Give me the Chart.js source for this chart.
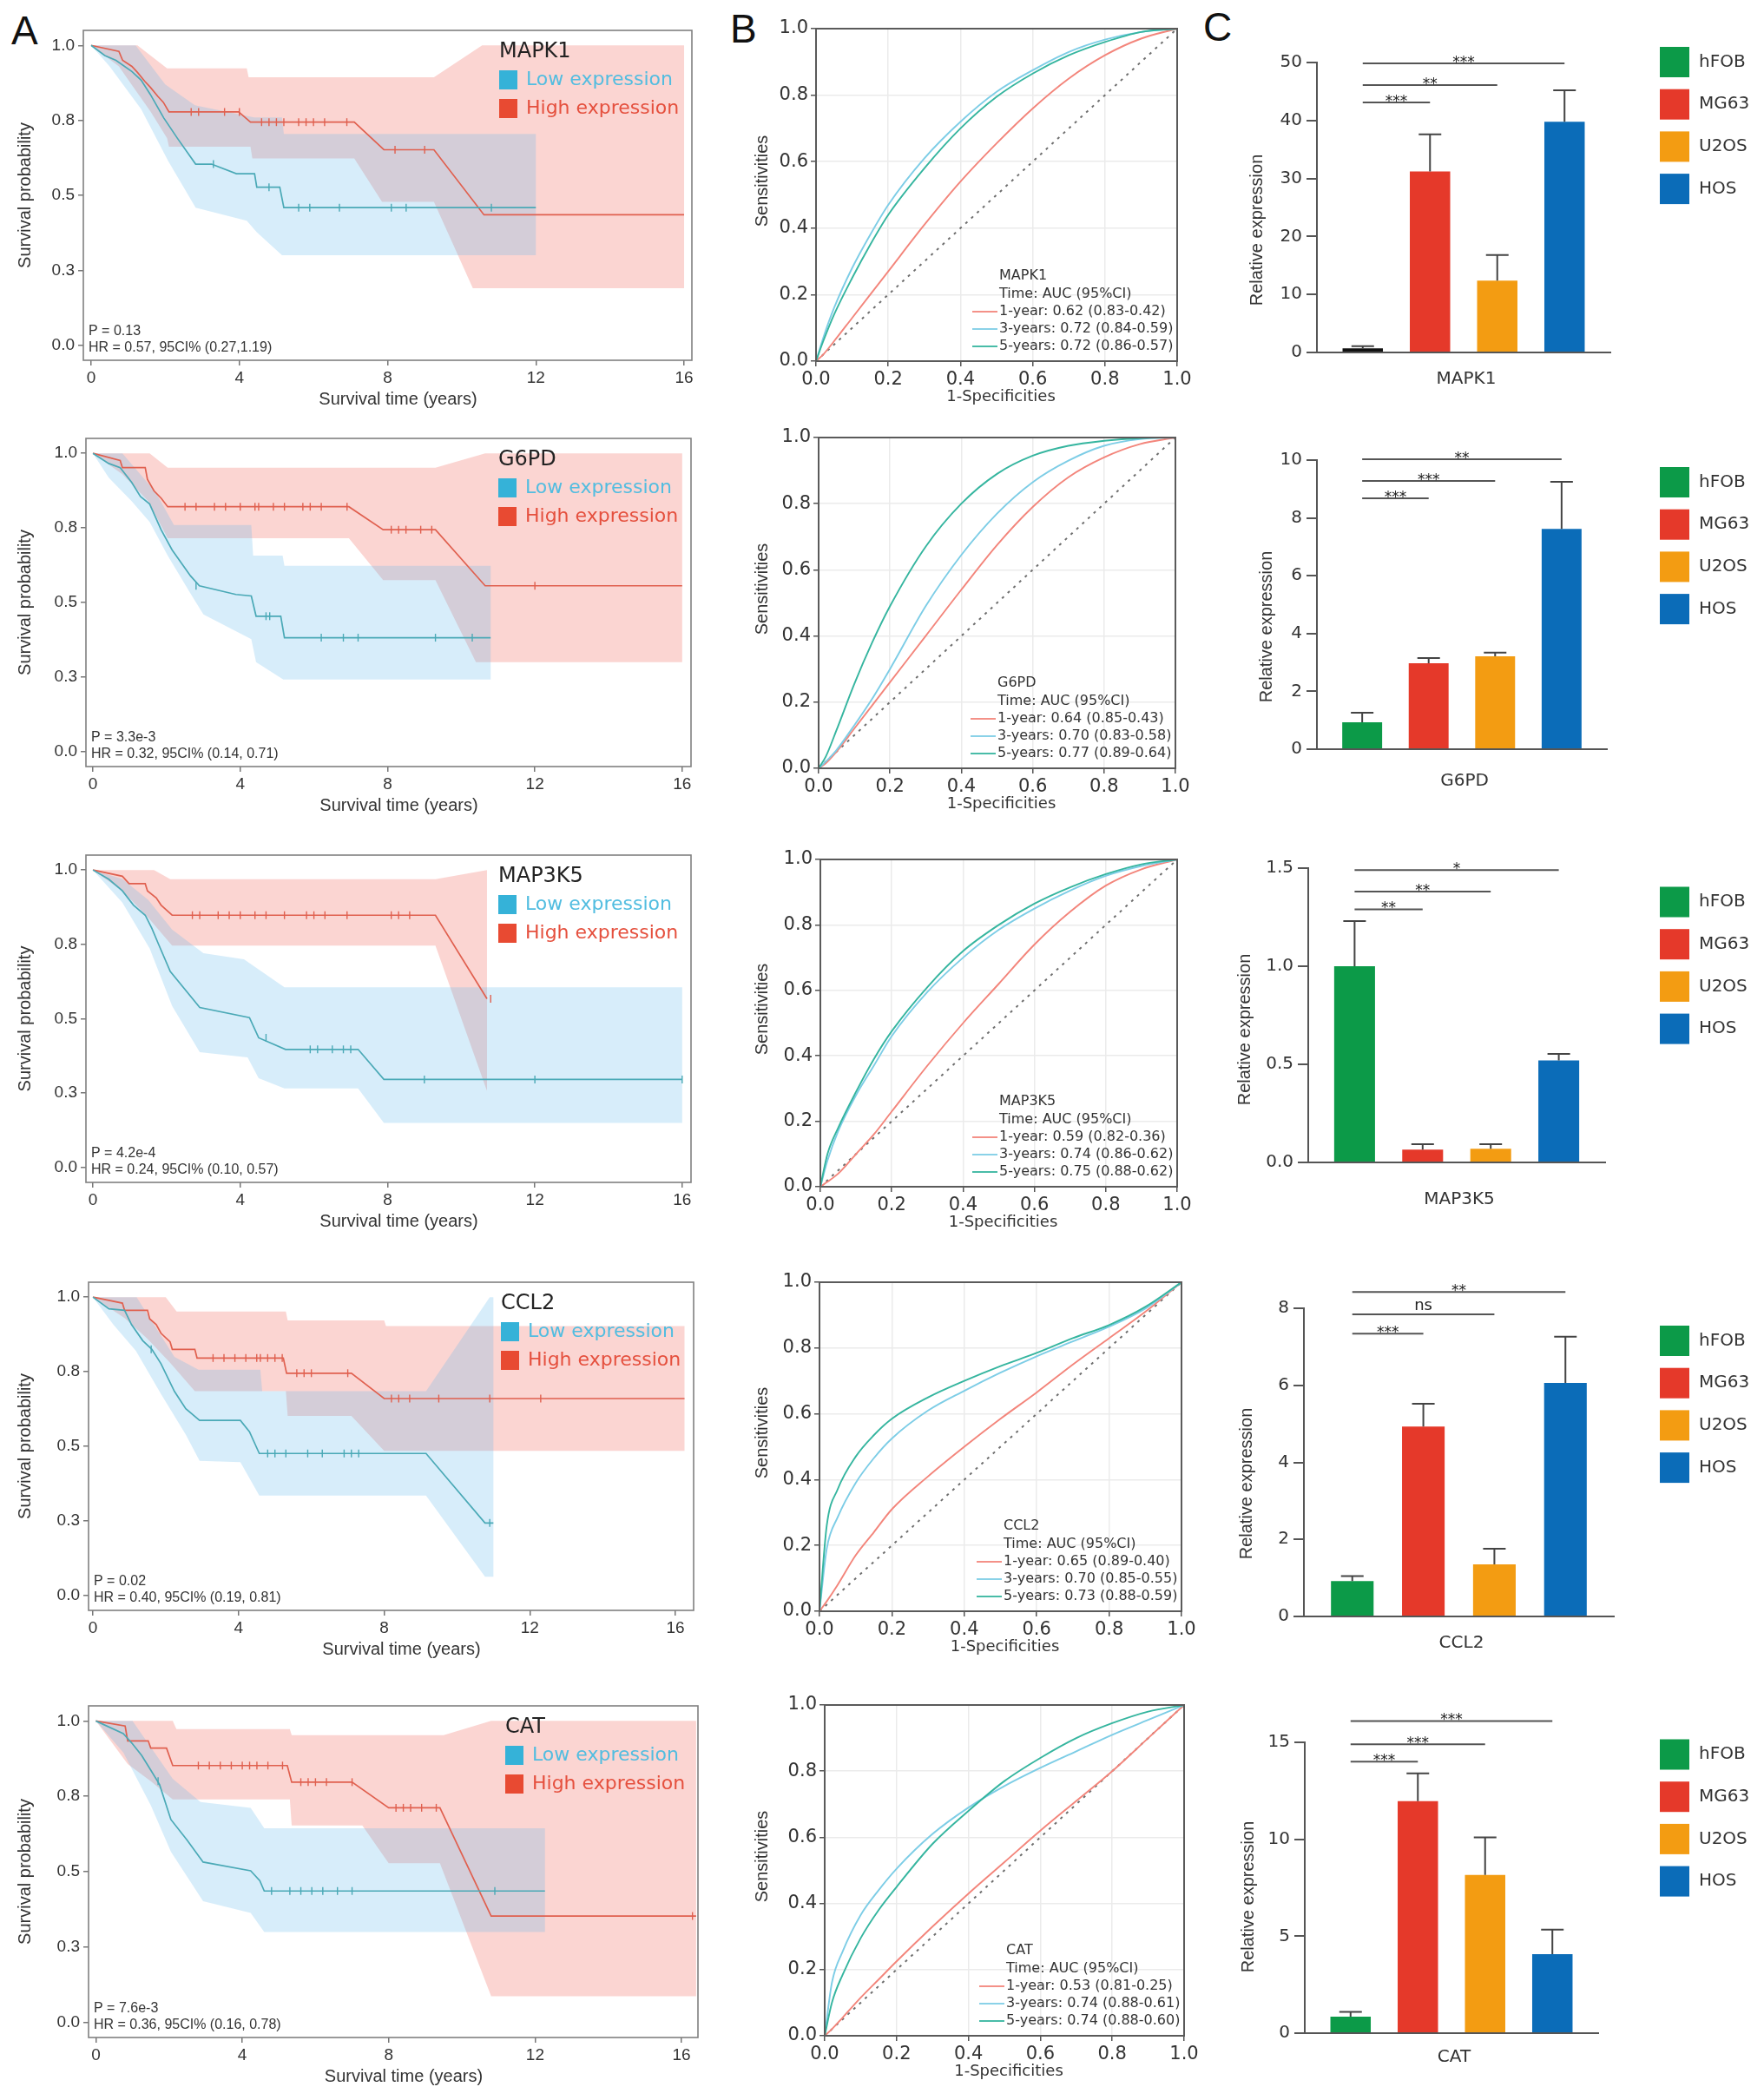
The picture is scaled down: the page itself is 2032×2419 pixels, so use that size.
<!DOCTYPE html>
<html>
<head>
<meta charset="utf-8">
<script src="https://cdn.jsdelivr.net/npm/chart.js@4.4.1/dist/chart.umd.min.js"></script>
<style>
  html, body { margin: 0; padding: 0; background: #fff; }
  #page { position: relative; width: 2032px; height: 2419px; overflow: hidden; background: #fff; }
  #page canvas { position: absolute; }
  .letter { position: absolute; font-family: "Liberation Sans", Arial, sans-serif; font-size: 46px; line-height: 1; color: #111; }
</style>
</head>
<body>
<div id="page">
  <div class="letter" style="left:13px;top:12px">A</div>
  <div class="letter" style="left:841px;top:10px">B</div>
  <div class="letter" style="left:1386px;top:8px">C</div>
</div>
<script>
// ---------- shared labels ----------
const genes = ['MAPK1', 'G6PD', 'MAP3K5', 'CCL2', 'CAT'];
const cellLines = ['hFOB', 'MG63', 'U2OS', 'HOS'];
const groupNames = ['Low expression', 'High expression'];

// ---------- A: Kaplan-Meier (time in years, survival) ----------
const kmXTicks = [0, 4, 8, 12, 16];
const kmYTicks = [0, 0.25, 0.5, 0.75, 1];
const kmPText = ['P = 0.13', 'P = 3.3e-3', 'P = 4.2e-4', 'P = 0.02', 'P = 7.6e-3'];
const kmHrText = ['HR = 0.57, 95CI% (0.27,1.19)', 'HR = 0.32, 95CI% (0.14, 0.71)', 'HR = 0.24, 95CI% (0.10, 0.57)',
  'HR = 0.40, 95CI% (0.19, 0.81)', 'HR = 0.36, 95CI% (0.16, 0.78)'];

const mapk1Low = [[0,1],[0.37,0.966],[0.67,0.95],[1.1,0.913],[1.35,0.884],[1.6,0.836],[1.78,0.797],[1.96,0.758],[2.33,0.69],[2.82,0.604],[3.25,0.604],[3.92,0.572],[4.41,0.572],[4.47,0.527],[5.09,0.527],[5.2,0.459],[12,0.459]];
const mapk1LowUp = [[0,1],[1.2,1],[2.0,0.87],[2.8,0.8],[4.4,0.76],[5.15,0.76],[5.2,0.705],[12,0.705]];
const mapk1LowLo = [[0,1],[0.5,0.93],[1.35,0.787],[2.08,0.614],[2.82,0.459],[4.2,0.415],[4.47,0.377],[5.15,0.30],[12,0.30]];
const mapk1LowCens = [[3.3,0.604],[4.8,0.527],[5.6,0.459],[5.9,0.459],[6.7,0.459],[8.1,0.459],[8.5,0.459],[10.8,0.459]];
const mapk1High = [[0,1],[0.75,0.98],[0.85,0.95],[1.1,0.93],[1.25,0.91],[1.45,0.88],[1.6,0.86],[1.8,0.83],[1.95,0.81],[2.1,0.778],[3.98,0.778],[4.3,0.744],[7.1,0.744],[7.9,0.652],[9.25,0.652],[10.6,0.435],[16,0.435]];
const mapk1HighUp = [[0,1],[1.25,1],[2.05,0.923],[4.2,0.923],[4.25,0.894],[9.25,0.894],[10.55,1],[16,1]];
const mapk1HighLo = [[0,1],[0.75,0.93],[1.2,0.85],[1.6,0.78],[2.05,0.69],[2.1,0.662],[4.3,0.662],[4.35,0.623],[7.1,0.623],[7.85,0.478],[9.25,0.478],[10.3,0.19],[16,0.19]];
const mapk1HighCens = [[2.7,0.778],[2.9,0.778],[3.6,0.778],[4.0,0.778],[4.6,0.744],[4.8,0.744],[5.0,0.744],[5.2,0.744],[5.6,0.744],[5.8,0.744],[6.0,0.744],[6.3,0.744],[6.9,0.744],[8.2,0.652],[9.0,0.652]];

const g6pdLow = [[0,1],[0.43,0.966],[0.74,0.952],[1.05,0.903],[1.29,0.855],[1.54,0.83],[1.85,0.744],[2.15,0.676],[2.65,0.589],[2.89,0.556],[3.88,0.527],[4.3,0.522],[4.43,0.454],[5.1,0.454],[5.2,0.382],[10.8,0.382]];
const g6pdLowUp = [[0,1],[0.8,1],[1.7,0.87],[2.2,0.76],[4.3,0.76],[4.35,0.657],[5.15,0.657],[5.2,0.623],[10.8,0.623]];
const g6pdLowLo = [[0,1],[0.43,0.918],[1.05,0.84],[1.54,0.77],[2.03,0.657],[2.65,0.53],[3.0,0.46],[4.3,0.377],[4.43,0.30],[5.17,0.242],[10.8,0.242]];
const g6pdLowCens = [[2.8,0.556],[4.7,0.454],[4.8,0.454],[6.2,0.382],[6.8,0.382],[7.2,0.382],[9.3,0.382],[10.3,0.382]];
const g6pdHigh = [[0,1],[0.74,0.976],[0.8,0.952],[1.42,0.952],[1.48,0.913],[1.66,0.874],[1.85,0.85],[2.03,0.821],[6.95,0.821],[7.88,0.744],[9.3,0.744],[10.65,0.556],[16,0.556]];
const g6pdHighUp = [[0,1],[1.54,1],[2.03,0.952],[9.3,0.952],[10.65,1],[16,1]];
const g6pdHighLo = [[0,1],[0.8,0.93],[1.5,0.84],[2.03,0.715],[6.95,0.715],[7.88,0.575],[9.3,0.575],[10.4,0.30],[16,0.30]];
const g6pdHighCens = [[2.5,0.821],[2.8,0.821],[3.3,0.821],[3.6,0.821],[4.0,0.821],[4.4,0.821],[4.5,0.821],[4.9,0.821],[5.2,0.821],[5.7,0.821],[5.9,0.821],[6.2,0.821],[6.9,0.821],[8.1,0.744],[8.3,0.744],[8.5,0.744],[8.9,0.744],[9.2,0.744],[12.0,0.556]];

const map3k5Low = [[0,1],[0.43,0.969],[0.8,0.93],[1.1,0.882],[1.42,0.848],[1.6,0.804],[1.78,0.751],[2.1,0.659],[2.9,0.538],[4.25,0.504],[4.5,0.436],[5.23,0.397],[7.2,0.397],[7.9,0.296],[16,0.296]];
const map3k5LowUp = [[0,1],[0.8,0.97],[1.5,0.9],[2.15,0.8],[3.0,0.72],[4.1,0.70],[5.2,0.606],[16,0.606]];
const map3k5LowLo = [[0,1],[0.8,0.89],[1.54,0.736],[2.15,0.543],[2.9,0.388],[4.2,0.37],[4.5,0.30],[5.2,0.266],[7.2,0.266],[7.9,0.15],[16,0.15]];
const map3k5LowCens = [[4.7,0.436],[5.9,0.397],[6.1,0.397],[6.5,0.397],[6.8,0.397],[7.0,0.397],[9.0,0.296],[12.0,0.296],[16,0.296]];
const map3k5High = [[0,1],[0.8,0.979],[0.98,0.954],[1.42,0.954],[1.48,0.93],[1.72,0.906],[1.85,0.882],[2.15,0.848],[9.3,0.848],[10.7,0.567]];
const map3k5HighUp = [[0,1],[1.66,1],[2.1,0.969],[9.3,0.969],[10.7,1]];
const map3k5HighLo = [[0,1],[0.8,0.93],[1.5,0.84],[2.15,0.746],[9.3,0.746],[10.7,0.257]];
const map3k5HighCens = [[2.7,0.848],[2.9,0.848],[3.4,0.848],[3.7,0.848],[4.0,0.848],[4.4,0.848],[4.7,0.848],[5.2,0.848],[5.8,0.848],[6.0,0.848],[6.3,0.848],[6.9,0.848],[8.1,0.848],[8.3,0.848],[8.6,0.848],[10.8,0.567]];

const ccl2Low = [[0,1],[0.44,0.961],[0.87,0.956],[1.06,0.908],[1.37,0.854],[1.62,0.825],[1.87,0.777],[2.24,0.684],[2.55,0.626],[2.93,0.587],[4.05,0.587],[4.3,0.549],[4.57,0.476],[9.15,0.476],[10.77,0.243],[11.0,0.243]];
const ccl2LowUp = [[0,1],[1.2,1],[2.24,0.80],[2.9,0.757],[4.6,0.757],[4.65,0.685],[9.15,0.685],[10.9,1],[11.0,1]];
const ccl2LowLo = [[0,1],[0.56,0.908],[1.18,0.82],[1.87,0.675],[2.55,0.539],[2.93,0.451],[4.05,0.447],[4.57,0.335],[9.15,0.335],[10.77,0.063],[11.0,0.063]];
const ccl2LowCens = [[1.6,0.825],[4.8,0.476],[5.0,0.476],[5.3,0.476],[5.9,0.476],[6.3,0.476],[6.9,0.476],[7.1,0.476],[7.3,0.476],[10.9,0.243]];
const ccl2High = [[0,1],[0.81,0.98],[0.87,0.956],[1.5,0.956],[1.56,0.927],[1.74,0.908],[1.87,0.879],[2.12,0.85],[2.18,0.825],[2.8,0.825],[2.86,0.796],[5.23,0.796],[5.32,0.745],[7.1,0.745],[8.0,0.66],[16.25,0.66]];
const ccl2HighUp = [[0,1],[2.0,1],[2.3,0.952],[5.3,0.952],[5.35,0.922],[8.0,0.922],[8.05,0.903],[16.25,0.903]];
const ccl2HighLo = [[0,1],[0.87,0.93],[1.5,0.86],[2.12,0.78],[2.8,0.685],[5.3,0.685],[5.35,0.602],[7.1,0.602],[8.0,0.485],[16.25,0.485]];
const ccl2HighCens = [[3.3,0.796],[3.6,0.796],[3.9,0.796],[4.2,0.796],[4.5,0.796],[4.6,0.796],[4.8,0.796],[5.0,0.796],[5.2,0.796],[5.6,0.745],[5.8,0.745],[6.0,0.745],[7.0,0.745],[8.2,0.66],[8.4,0.66],[8.7,0.66],[9.5,0.66],[10.9,0.66],[12.3,0.66]];

const catLow = [[0,1],[0.75,0.958],[1.0,0.924],[1.25,0.886],[1.5,0.837],[1.74,0.789],[2.05,0.673],[2.49,0.605],[2.93,0.532],[4.23,0.503],[4.48,0.47],[4.6,0.436],[12.27,0.436]];
const catLowUp = [[0,1],[1.0,1],[2.1,0.808],[2.86,0.731],[4.23,0.712],[4.6,0.644],[12.27,0.644]];
const catLowLo = [[0,1],[0.75,0.895],[1.5,0.72],[2.05,0.566],[2.93,0.402],[4.23,0.363],[4.6,0.30],[12.27,0.30]];
const catLowCens = [[1.7,0.80],[4.8,0.436],[5.3,0.436],[5.6,0.436],[5.9,0.436],[6.2,0.436],[6.6,0.436],[7.0,0.436],[10.9,0.436]];
const catHigh = [[0,1],[0.8,0.983],[0.87,0.934],[1.43,0.934],[1.5,0.91],[1.93,0.91],[2.1,0.852],[5.23,0.852],[5.35,0.797],[7.0,0.797],[8.0,0.712],[9.4,0.712],[10.8,0.353],[16.4,0.353]];
const catHighUp = [[0,1],[2.1,1],[2.2,0.973],[5.3,0.973],[5.35,0.953],[9.5,0.953],[10.8,1],[16.4,1]];
const catHighLo = [[0,1],[0.87,0.857],[1.5,0.8],[2.1,0.74],[5.3,0.74],[5.35,0.653],[7.28,0.653],[8.0,0.528],[9.4,0.528],[10.8,0.087],[16.4,0.087]];
const catHighCens = [[2.8,0.852],[3.1,0.852],[3.4,0.852],[3.7,0.852],[4.0,0.852],[4.2,0.852],[4.4,0.852],[4.7,0.852],[5.1,0.852],[5.6,0.797],[5.8,0.797],[6.0,0.797],[6.3,0.797],[7.0,0.797],[8.2,0.712],[8.4,0.712],[8.6,0.712],[8.9,0.712],[9.3,0.712],[16.3,0.353]];

// ---------- B: time-dependent ROC ----------
const rocTicks = [0, 0.2, 0.4, 0.6, 0.8, 1];
const rocX = [0, 0.02, 0.05, 0.1, 0.15, 0.2, 0.3, 0.4, 0.5, 0.6, 0.7, 0.8, 0.9, 1];
const rocDiag = [[0, 0], [1, 1]];
const rocTimes = ['1-year', '3-years', '5-years'];
const mapk1Roc1 = [0,0.02,0.06,0.13,0.20,0.27,0.41,0.54,0.655,0.76,0.85,0.92,0.97,1];
const mapk1Roc3 = [0,0.07,0.16,0.28,0.38,0.47,0.61,0.72,0.81,0.875,0.93,0.967,0.99,1];
const mapk1Roc5 = [0,0.06,0.14,0.25,0.35,0.44,0.58,0.70,0.795,0.865,0.92,0.96,0.99,1];
const g6pdRoc1 = [0,0.015,0.05,0.12,0.19,0.26,0.40,0.54,0.675,0.79,0.88,0.94,0.98,1];
const g6pdRoc3 = [0,0.02,0.055,0.13,0.21,0.30,0.49,0.645,0.77,0.865,0.93,0.975,0.995,1];
const g6pdRoc5 = [0,0.035,0.115,0.255,0.38,0.49,0.67,0.80,0.89,0.945,0.975,0.99,0.998,1];
const map3k5Roc1 = [0,0.015,0.04,0.10,0.16,0.23,0.37,0.50,0.62,0.74,0.84,0.92,0.97,1];
const map3k5Roc3 = [0,0.08,0.17,0.28,0.37,0.46,0.595,0.70,0.785,0.85,0.905,0.95,0.98,1];
const map3k5Roc5 = [0,0.10,0.18,0.29,0.39,0.475,0.61,0.72,0.80,0.865,0.915,0.955,0.985,1];
const ccl2Roc1 = [0,0.03,0.08,0.17,0.24,0.31,0.41,0.50,0.585,0.665,0.75,0.83,0.91,1];
const ccl2Roc3 = [0,0.19,0.285,0.39,0.465,0.525,0.61,0.67,0.725,0.775,0.82,0.865,0.92,1];
const ccl2Roc5 = [0,0.26,0.37,0.47,0.535,0.585,0.65,0.70,0.745,0.785,0.83,0.87,0.925,1];
const catRoc1 = [0,0.02,0.055,0.115,0.17,0.225,0.33,0.43,0.525,0.62,0.71,0.80,0.90,1];
const catRoc3 = [0,0.16,0.255,0.365,0.44,0.505,0.61,0.69,0.755,0.81,0.86,0.91,0.955,1];
const catRoc5 = [0,0.10,0.185,0.295,0.38,0.45,0.58,0.68,0.77,0.84,0.90,0.945,0.98,1];
const mapk1Auc = ['0.62 (0.83-0.42)', '0.72 (0.84-0.59)', '0.72 (0.86-0.57)'];
const g6pdAuc = ['0.64 (0.85-0.43)', '0.70 (0.83-0.58)', '0.77 (0.89-0.64)'];
const map3k5Auc = ['0.59 (0.82-0.36)', '0.74 (0.86-0.62)', '0.75 (0.88-0.62)'];
const ccl2Auc = ['0.65 (0.89-0.40)', '0.70 (0.85-0.55)', '0.73 (0.88-0.59)'];
const catAuc = ['0.53 (0.81-0.25)', '0.74 (0.88-0.61)', '0.74 (0.88-0.60)'];

// ---------- C: qPCR relative expression (mean, SD, significance) ----------
const mapk1Expr = [0.7, 31.2, 12.4, 39.8];
const mapk1Sd = [0.4, 6.4, 4.4, 5.4];
const mapk1Ticks = [0, 10, 20, 30, 40, 50];
const mapk1Sig = [['***', 1, 43.1], ['**', 2, 46.1], ['***', 3, 49.85]];
const g6pdExpr = [0.93, 2.97, 3.21, 7.62];
const g6pdSd = [0.33, 0.18, 0.13, 1.63];
const g6pdTicks = [0, 2, 4, 6, 8, 10];
const g6pdSig = [['***', 1, 8.68], ['***', 2, 9.28], ['**', 3, 10.03]];
const map3k5Expr = [1.0, 0.065, 0.07, 0.52];
const map3k5Sd = [0.23, 0.028, 0.023, 0.033];
const map3k5Ticks = [0, 0.5, 1, 1.5];
const map3k5Sig = [['**', 1, 1.29], ['**', 2, 1.38], ['*', 3, 1.49]];
const ccl2Expr = [0.92, 4.93, 1.35, 6.06];
const ccl2Sd = [0.13, 0.59, 0.41, 1.2];
const ccl2Ticks = [0, 2, 4, 6, 8];
const ccl2Sig = [['***', 1, 7.34], ['ns', 2, 7.84], ['**', 3, 8.42]];
const catExpr = [0.85, 11.97, 8.16, 4.08];
const catSd = [0.25, 1.43, 1.94, 1.26];
const catTicks = [0, 5, 10, 15];
const catSig = [['***', 1, 14.0], ['***', 2, 14.9], ['***', 3, 16.1]];

// ---------- styling / layout ----------
const SANS = '"Liberation Sans", Arial, sans-serif';
const WIDE = '"DejaVu Sans", sans-serif';
const LOW_LINE = '#4aa9b6', HIGH_LINE = '#e0604f';
const LOW_BAND = 'rgba(86,180,233,0.24)', HIGH_BAND = 'rgba(240,100,90,0.27)';
const LOW_KEY = '#35b2d8', HIGH_KEY = '#e84a32';
const LOW_TXT = '#52bde0', HIGH_TXT = '#e5503e';
const ROC_COLORS = ['#f3857b', '#7dcde6', '#35b59f'];
const CELL_COLORS = ['#0c9a48', '#e5392a', '#f39c12', '#0b6cb8'];

// plot areas in page pixels [left, top, right, bottom]
const kmAreas = [[96,35,797,415],[99,505,796,883],[99,985,796,1362],[102,1477,799,1855],[102,1965,804,2347]];
const kmXMin = [-0.21, -0.19, -0.19, -0.12, -0.2];
const kmXMax = [16.21, 16.24, 16.24, 16.5, 16.45];
const rocAreas = [[940,33,1356,416],[943,504,1354,885],[945,990,1356,1367],[944,1477,1361,1856],[950,1964,1364,2345]];
const barAreas = [[1517,72,1855,406],[1517,530,1851,863],[1507,1000,1849,1339],[1502,1507,1859,1862],[1503,2007,1841,2342]];
const barLegendY = [71.5, 555.5, 1039, 1544.5, 2021];
const barGeneDy = [31, 37, 43, 31, 28];
const barTitleX = [1448, 1459, 1434, 1436, 1438];
const barTitleY = [265, 722, 1186, 1709, 2185];

const kmRows = [
  {low: mapk1Low, lowUp: mapk1LowUp, lowLo: mapk1LowLo, lowCens: mapk1LowCens, high: mapk1High, highUp: mapk1HighUp, highLo: mapk1HighLo, highCens: mapk1HighCens},
  {low: g6pdLow, lowUp: g6pdLowUp, lowLo: g6pdLowLo, lowCens: g6pdLowCens, high: g6pdHigh, highUp: g6pdHighUp, highLo: g6pdHighLo, highCens: g6pdHighCens},
  {low: map3k5Low, lowUp: map3k5LowUp, lowLo: map3k5LowLo, lowCens: map3k5LowCens, high: map3k5High, highUp: map3k5HighUp, highLo: map3k5HighLo, highCens: map3k5HighCens},
  {low: ccl2Low, lowUp: ccl2LowUp, lowLo: ccl2LowLo, lowCens: ccl2LowCens, high: ccl2High, highUp: ccl2HighUp, highLo: ccl2HighLo, highCens: ccl2HighCens},
  {low: catLow, lowUp: catLowUp, lowLo: catLowLo, lowCens: catLowCens, high: catHigh, highUp: catHighUp, highLo: catHighLo, highCens: catHighCens},
];
const rocRows = [[mapk1Roc1, mapk1Roc3, mapk1Roc5], [g6pdRoc1, g6pdRoc3, g6pdRoc5], [map3k5Roc1, map3k5Roc3, map3k5Roc5], [ccl2Roc1, ccl2Roc3, ccl2Roc5], [catRoc1, catRoc3, catRoc5]];
const rocAuc = [mapk1Auc, g6pdAuc, map3k5Auc, ccl2Auc, catAuc];
const barExpr = [mapk1Expr, g6pdExpr, map3k5Expr, ccl2Expr, catExpr];
const barSd = [mapk1Sd, g6pdSd, map3k5Sd, ccl2Sd, catSd];
const barTicks = [mapk1Ticks, g6pdTicks, map3k5Ticks, ccl2Ticks, catTicks];
const barSig = [mapk1Sig, g6pdSig, map3k5Sig, ccl2Sig, catSig];

Chart.defaults.font.family = SANS;
Chart.defaults.animation = false;

function makeCanvas(area, m) {
  const [l, t, r, b] = area;
  const w = r - l + m.l + m.r, h = b - t + m.t + m.b;
  const cv = document.createElement('canvas');
  cv.width = w; cv.height = h;
  cv.style.left = (l - m.l) + 'px';
  cv.style.top = (t - m.t) + 'px';
  cv.style.width = w + 'px';
  cv.style.height = h + 'px';
  document.getElementById('page').appendChild(cv);
  return cv;
}

function text(ctx, s, x, y, font, color, align = 'left', base = 'middle') {
  ctx.save();
  ctx.font = font; ctx.fillStyle = color;
  ctx.textAlign = align; ctx.textBaseline = base;
  ctx.fillText(s, x, y);
  ctx.restore();
}

function vtext(ctx, s, x, y, font, color) {
  ctx.save();
  ctx.translate(x, y);
  ctx.rotate(-Math.PI / 2);
  ctx.font = font; ctx.fillStyle = color;
  ctx.textAlign = 'center'; ctx.textBaseline = 'middle';
  ctx.fillText(s, 0, 0);
  ctx.restore();
}

const fixedTicks = vals => axis => { axis.ticks = vals.map(v => ({value: v})); };
const pts = a => a.map(p => ({x: p[0], y: p[1]}));

// ---------- Kaplan-Meier panel ----------
function drawKM(i) {
  const d = kmRows[i], area = kmAreas[i];
  const m = {l: 100, t: 22, r: 24, b: 75};
  const cv = makeCanvas(area, m);

  const bandDs = (up, lo, color) => ({
    data: pts(up.concat(lo.slice().reverse())), fill: 'shape', backgroundColor: color,
    borderWidth: 0, borderColor: 'rgba(0,0,0,0)', pointRadius: 0, order: 3
  });
  const lineDs = (data, color) => ({
    data: pts(data), borderColor: color, borderWidth: 1.7, pointRadius: 0, fill: false, tension: 0, order: 1
  });
  const censDs = (data, color) => ({
    data: pts(data), showLine: false, pointStyle: 'line', pointRotation: 90, pointRadius: 4.5,
    pointBorderWidth: 1.4, pointBorderColor: color, borderColor: color, order: 0
  });

  new Chart(cv, {
    type: 'line',
    data: {
      datasets: [
        bandDs(d.lowUp, d.lowLo, LOW_BAND),
        bandDs(d.highUp, d.highLo, HIGH_BAND),
        lineDs(d.low, LOW_LINE),
        lineDs(d.high, HIGH_LINE),
        censDs(d.lowCens, LOW_LINE),
        censDs(d.highCens, HIGH_LINE)
      ]
    },
    options: {
      responsive: false, animation: false, events: [], devicePixelRatio: 1,
      layout: {padding: {left: 0, top: m.t, right: m.r, bottom: 0}},
      plugins: {legend: {display: false}, tooltip: {enabled: false}},
      scales: {
        x: {
          type: 'linear', min: kmXMin[i], max: kmXMax[i],
          afterBuildTicks: fixedTicks(kmXTicks),
          afterFit: a => { a.height = m.b; },
          ticks: {font: {family: SANS, size: 19}, color: '#333', padding: 3, maxRotation: 0, autoSkip: false},
          grid: {drawOnChartArea: false, tickLength: 6, tickColor: '#777', lineWidth: 1.5},
          border: {display: false}
        },
        y: {
          type: 'linear', min: -0.05, max: 1.05,
          afterBuildTicks: fixedTicks(kmYTicks),
          afterFit: a => { a.width = m.l; },
          ticks: {callback: v => v.toFixed(1), font: {family: SANS, size: 19}, color: '#333', padding: 4, autoSkip: false},
          grid: {drawOnChartArea: false, tickLength: 6, tickColor: '#777', lineWidth: 1.5},
          border: {display: false}
        }
      }
    },
    plugins: [{
      id: 'kmDecor',
      afterDraw(chart) {
        const {ctx, chartArea: ca} = chart;
        ctx.save();
        ctx.strokeStyle = '#808080'; ctx.lineWidth = 1.6;
        ctx.strokeRect(ca.left, ca.top, ca.right - ca.left, ca.bottom - ca.top);
        const lx = ca.right - 222;
        text(ctx, genes[i], lx, ca.top + 25, `24px ${WIDE}`, '#222');
        ctx.fillStyle = LOW_KEY; ctx.fillRect(lx, ca.top + 46, 21, 22);
        ctx.fillStyle = HIGH_KEY; ctx.fillRect(lx, ca.top + 79, 21, 22);
        text(ctx, groupNames[0], lx + 31, ca.top + 57, `22px ${WIDE}`, LOW_TXT);
        text(ctx, groupNames[1], lx + 31, ca.top + 90, `22px ${WIDE}`, HIGH_TXT);
        text(ctx, kmPText[i], ca.left + 6, ca.bottom - 33, `16px ${SANS}`, '#333');
        text(ctx, kmHrText[i], ca.left + 6, ca.bottom - 14, `16px ${SANS}`, '#333');
        vtext(ctx, 'Survival probability', ca.left + (29 - area[0]), (ca.top + ca.bottom) / 2, `20px ${SANS}`, '#333');
        text(ctx, 'Survival time (years)', (ca.left + ca.right) / 2 + 12, ca.bottom + 45, `20px ${SANS}`, '#333', 'center');
        ctx.restore();
      }
    }]
  });
}

// ---------- ROC panel ----------
function drawROC(i) {
  const area = rocAreas[i];
  const m = {l: 85, t: 22, r: 30, b: 62};
  const cv = makeCanvas(area, m);
  const curve = (ys, color) => ({
    data: rocX.map((x, k) => ({x, y: ys[k]})), borderColor: color, borderWidth: 1.9,
    pointRadius: 0, cubicInterpolationMode: 'monotone', fill: false
  });

  new Chart(cv, {
    type: 'line',
    data: {
      datasets: [
        curve(rocRows[i][2], ROC_COLORS[2]),
        curve(rocRows[i][1], ROC_COLORS[1]),
        curve(rocRows[i][0], ROC_COLORS[0]),
        {data: pts(rocDiag), borderColor: '#6f6f6f', borderWidth: 2, borderDash: [3, 6], pointRadius: 0, fill: false}
      ]
    },
    options: {
      responsive: false, animation: false, events: [], devicePixelRatio: 1,
      layout: {padding: {left: 0, top: m.t, right: m.r, bottom: 0}},
      plugins: {legend: {display: false}, tooltip: {enabled: false}},
      scales: {
        x: {
          type: 'linear', min: 0, max: 1,
          afterBuildTicks: fixedTicks(rocTicks),
          afterFit: a => { a.height = m.b; },
          ticks: {callback: v => v.toFixed(1), font: {family: WIDE, size: 21}, color: '#333', padding: 3, maxRotation: 0, autoSkip: false},
          grid: {color: '#ebebeb', lineWidth: 1.5, tickLength: 6, tickColor: '#555'},
          border: {display: false}
        },
        y: {
          type: 'linear', min: 0, max: 1,
          afterBuildTicks: fixedTicks(rocTicks),
          afterFit: a => { a.width = m.l; },
          ticks: {callback: v => v.toFixed(1), font: {family: WIDE, size: 21}, color: '#333', padding: 3, autoSkip: false},
          grid: {color: '#ebebeb', lineWidth: 1.5, tickLength: 6, tickColor: '#555'},
          border: {display: false}
        }
      }
    },
    plugins: [{
      id: 'rocDecor',
      afterDraw(chart) {
        const {ctx, chartArea: ca} = chart;
        ctx.save();
        ctx.strokeStyle = '#5a5a5a'; ctx.lineWidth = 2;
        ctx.strokeRect(ca.left, ca.top, ca.right - ca.left, ca.bottom - ca.top);
        const lx = ca.right - 205;
        const ys = [98, 77, 57, 37, 17].map(o => ca.bottom - o);
        const f = `16px ${WIDE}`;
        text(ctx, genes[i], lx, ys[0], f, '#333');
        text(ctx, 'Time: AUC (95%CI)', lx, ys[1], f, '#333');
        rocTimes.forEach((t, k) => {
          ctx.strokeStyle = ROC_COLORS[k]; ctx.lineWidth = 1.8;
          ctx.beginPath(); ctx.moveTo(lx - 31, ys[k + 2]); ctx.lineTo(lx - 2, ys[k + 2]); ctx.stroke();
          text(ctx, `${t}: ${rocAuc[i][k]}`, lx, ys[k + 2], f, '#333');
        });
        vtext(ctx, 'Sensitivities', ca.left + (878 - area[0]), (ca.top + ca.bottom) / 2 - 16, `20px ${SANS}`, '#333');
        text(ctx, '1-Specificities', (ca.left + ca.right) / 2 + 5, ca.bottom + 41, `18px ${WIDE}`, '#333', 'center');
        ctx.restore();
      }
    }]
  });
}

// ---------- bar panel ----------
function drawBar(i) {
  const area = barAreas[i];
  const m = {l: 95, t: 70, r: 190, b: 60};
  const cv = makeCanvas(area, m);
  const vals = barExpr[i], sds = barSd[i];
  const ticks = barTicks[i];
  const decimals = ticks.some(v => v % 1 !== 0) ? 1 : 0;
  const fills = CELL_COLORS.slice();
  if (i === 0) fills[0] = '#111'; // hFOB bar is black in the MAPK1 plot

  new Chart(cv, {
    type: 'bar',
    data: {
      labels: [genes[i]],
      datasets: cellLines.map((c, k) => ({
        label: c, data: [vals[k]], backgroundColor: fills[k], borderWidth: 0,
        barPercentage: 0.6, categoryPercentage: 0.917
      }))
    },
    options: {
      responsive: false, animation: false, events: [], devicePixelRatio: 1,
      layout: {padding: {left: 0, top: m.t, right: m.r, bottom: 0}},
      plugins: {legend: {display: false}, tooltip: {enabled: false}},
      scales: {
        x: {
          grid: {display: false}, ticks: {display: false},
          border: {display: true, color: '#555', width: 2},
          afterFit: a => { a.height = m.b; }
        },
        y: {
          min: 0, max: ticks[ticks.length - 1],
          afterBuildTicks: fixedTicks(ticks),
          afterFit: a => { a.width = m.l; },
          ticks: {callback: v => v.toFixed(decimals), font: {family: WIDE, size: 20}, color: '#333', padding: 5, autoSkip: false},
          grid: {drawOnChartArea: false, tickLength: 12, tickColor: '#555', color: '#555', lineWidth: 2},
          border: {display: true, color: '#555', width: 2}
        }
      }
    },
    plugins: [{
      id: 'barDecor',
      afterDraw(chart) {
        const {ctx, chartArea: ca} = chart;
        const ys = chart.scales.y;
        const bars = cellLines.map((c, k) => chart.getDatasetMeta(k).data[0]);
        ctx.save();
        // error bars (mean + SD)
        ctx.strokeStyle = '#444'; ctx.lineWidth = 2;
        bars.forEach((el, k) => {
          const yTop = ys.getPixelForValue(vals[k] + sds[k]);
          ctx.beginPath();
          ctx.moveTo(el.x, el.y); ctx.lineTo(el.x, yTop);
          ctx.moveTo(el.x - 13, yTop); ctx.lineTo(el.x + 13, yTop);
          ctx.stroke();
        });
        // significance brackets
        barSig[i].forEach(([lab, k, v]) => {
          const x0 = bars[0].x, x1 = bars[k].x, y = ys.getPixelForValue(v);
          ctx.strokeStyle = '#555'; ctx.lineWidth = 2;
          ctx.beginPath(); ctx.moveTo(x0, y); ctx.lineTo(x1, y); ctx.stroke();
          const ty = lab === 'ns' ? y - 5 : y + 4;
          text(ctx, lab, (x0 + x1) / 2, ty, `${lab === 'ns' ? 18 : 17}px ${WIDE}`, '#222', 'center', 'alphabetic');
        });
        // legend
        const sx = ca.left + (1912 - area[0]);
        cellLines.forEach((c, k) => {
          const cy = ca.top + (barLegendY[i] - area[1]) + k * 48.7;
          ctx.fillStyle = CELL_COLORS[k];
          ctx.fillRect(sx, cy - 17.5, 34, 35);
          text(ctx, c, sx + 45, cy, `20px ${WIDE}`, '#333');
        });
        text(ctx, genes[i], (ca.left + ca.right) / 2 + 3, ca.bottom + barGeneDy[i], `20px ${WIDE}`, '#333', 'center');
        vtext(ctx, 'Relative expression', ca.left + (barTitleX[i] - area[0]), ca.top + (barTitleY[i] - area[1]), `20px ${SANS}`, '#333');
        ctx.restore();
      }
    }]
  });
}

genes.forEach((g, i) => { drawKM(i); drawROC(i); drawBar(i); });
</script>
</body>
</html>
